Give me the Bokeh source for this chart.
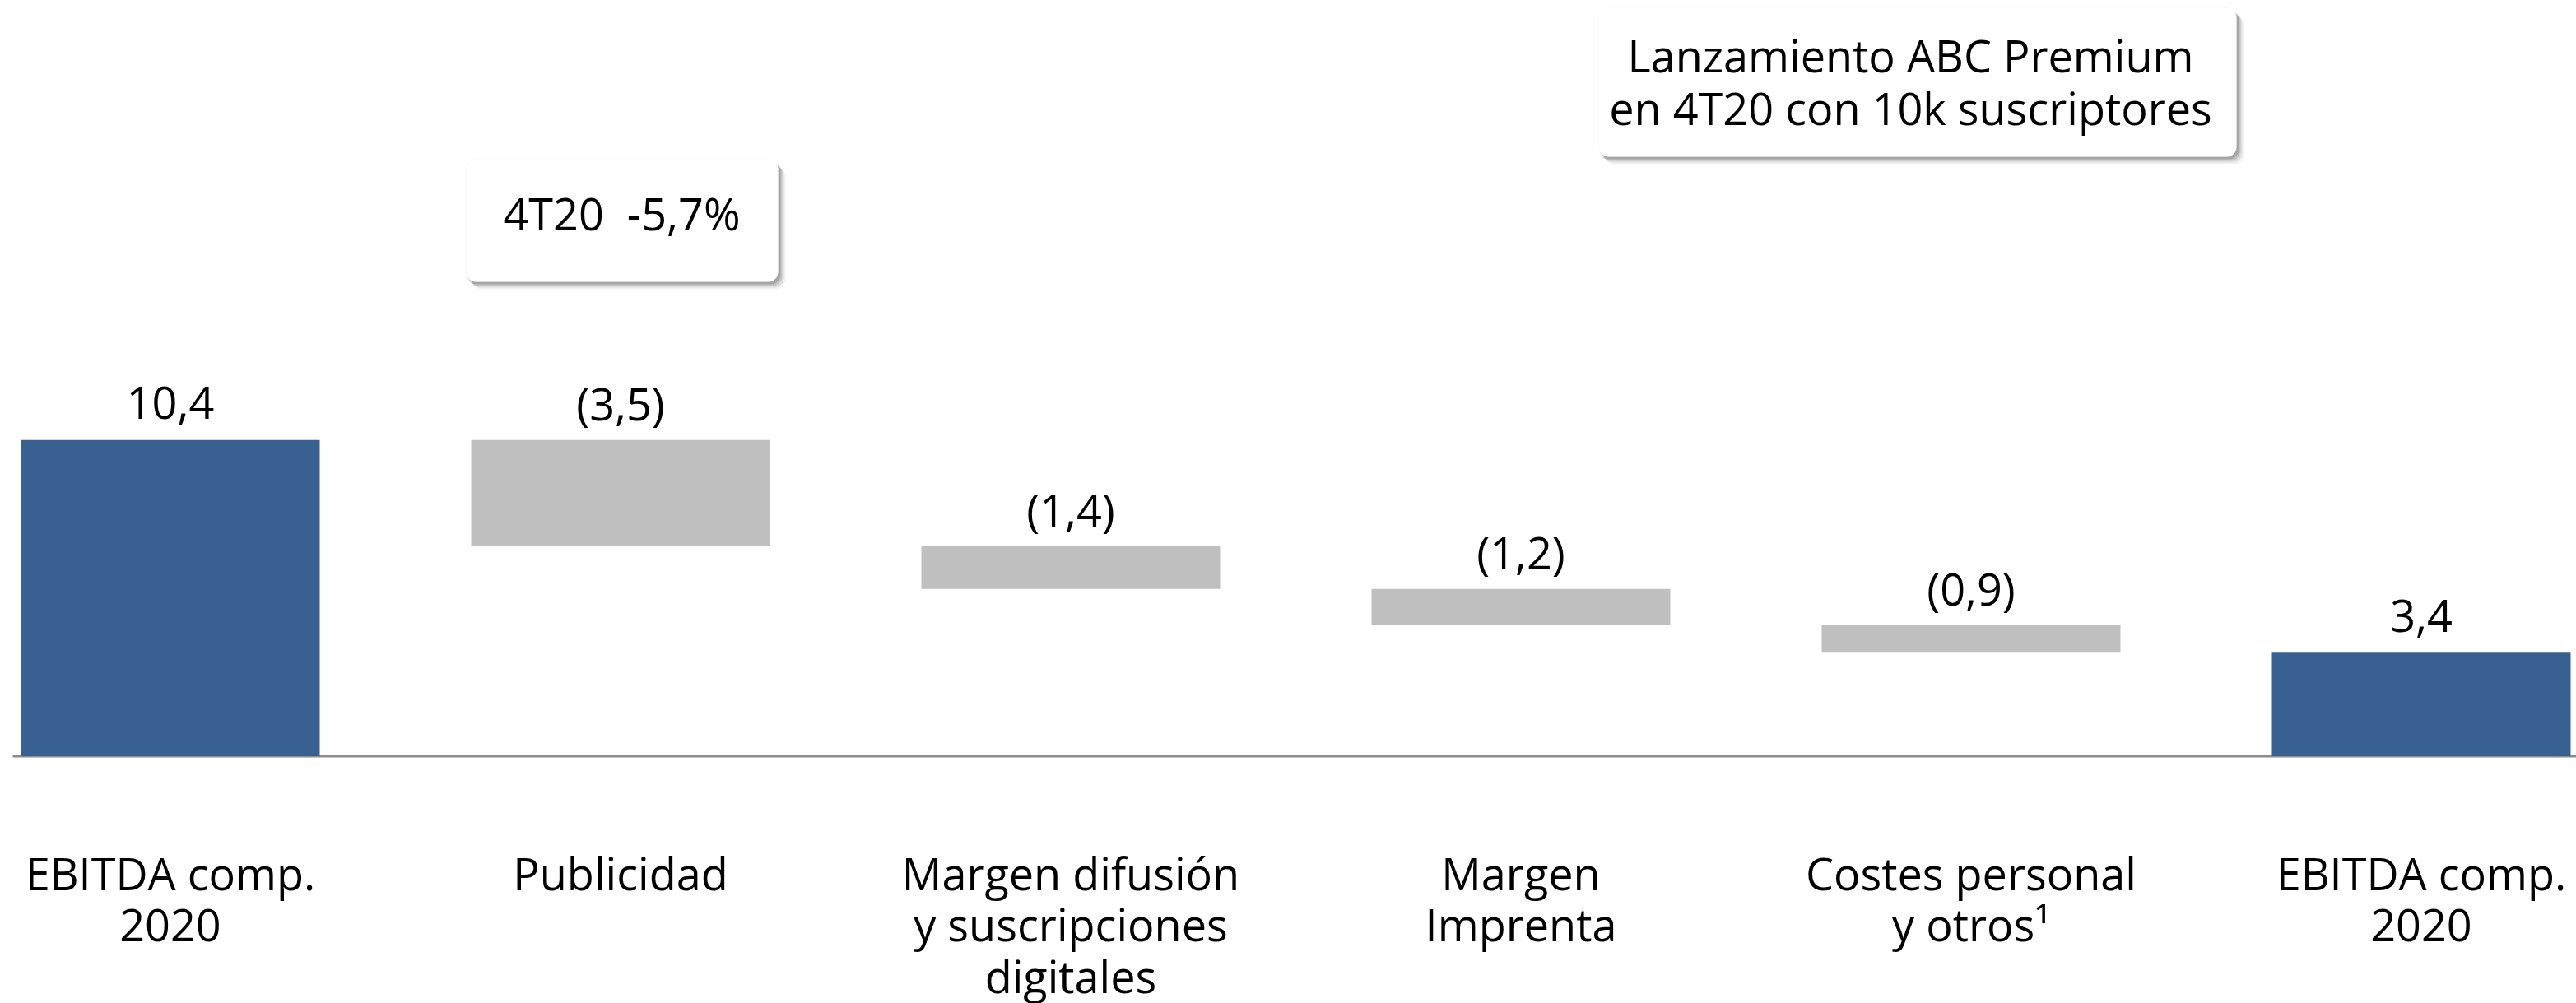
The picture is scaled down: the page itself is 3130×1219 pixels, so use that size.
from bokeh.plotting import figure
from bokeh.models import ColumnDataSource, FixedTicker, BoxAnnotation, Label, Range1d
from bokeh.embed import file_html
from bokeh.resources import INLINE
from bokeh.core.properties import value

# ---------------- data ----------------
categories = [
    "EBITDA comp.\n2020",
    "Publicidad",
    "Margen difusión\ny suscripciones\ndigitales",
    "Margen\nImprenta",
    "Costes personal\ny otros¹",
    "EBITDA comp.\n2020",
]
values = [10.4, -3.5, -1.4, -1.2, -0.9, 3.4]
kinds = ["total", "delta", "delta", "delta", "delta", "total"]
note_publicidad = "4T20\u00a0 -5,7%"
note_premium = ["Lanzamiento ABC Premium", "en 4T20 con 10k suscriptores"]

# ---------------- layout constants (pixels) ----------------
W, H = 3130, 1219
FRAME_H = 1000
PX_PER_CAT = 547.0
FIRST_CENTER_PX = 206.5
BASE_PX = 918.5
PX_PER_UNIT = 36.95
LABEL_GAP_PX = 45
TEXT_SHIFT = 22  # correction for text anchor placement

X0 = -FIRST_CENTER_PX / PX_PER_CAT
X1 = (W - FIRST_CENTER_PX) / PX_PER_CAT
Y1 = BASE_PX / PX_PER_UNIT
Y0 = (BASE_PX - FRAME_H) / PX_PER_UNIT


def xd(px):
    return X0 + px / PX_PER_CAT


def yd(py):
    return (BASE_PX - py) / PX_PER_UNIT


FONT = "Open Sans"
FS = "54px"
BLUE = "#386090"
GREY = "#BFBFBF"

# ---------------- waterfall geometry ----------------
bottoms, tops, colors, labels = [], [], [], []
running = 0.0
for v, k in zip(values, kinds):
    if k == "total":
        b, t = 0.0, v
        running = v
        colors.append(BLUE)
        labels.append(f"{v:.1f}".replace(".", ","))
    else:
        b, t = running + v, running
        running = running + v
        colors.append(GREY)
        labels.append(f"({abs(v):.1f})".replace(".", ","))
    bottoms.append(b)
    tops.append(t)

src = ColumnDataSource(dict(
    x=list(range(len(values))),
    bottom=bottoms,
    top=tops,
    label_y=[t + LABEL_GAP_PX / PX_PER_UNIT for t in tops],
    color=colors,
    label=labels,
))

p = figure(
    frame_width=W, frame_height=FRAME_H,
    x_range=Range1d(X0, X1), y_range=Range1d(Y0, Y1),
    output_backend="svg", toolbar_location=None,
    y_axis_location=None, x_axis_location="below",
    min_border=0, min_border_bottom=H - FRAME_H,
    outline_line_color=None,
    background_fill_color="white", border_fill_color="white",
)
p.xgrid.visible = False
p.ygrid.visible = False

# baseline
p.segment(x0=xd(15), x1=X1, y0=0, y1=0, line_color="#8C8C8C", line_width=3)

p.vbar(x="x", bottom="bottom", top="top", width=363 / PX_PER_CAT,
       fill_color="color", line_color=None, source=src)

p.text(x="x", y="label_y", text="label", source=src,
       text_align="center", text_baseline="alphabetic",
       text_font=value(FONT), text_font_size=FS, text_color="black")

# axis
ax = p.xaxis[0]
ax.ticker = FixedTicker(ticks=list(range(len(categories))))
ax.major_label_overrides = {i: c for i, c in enumerate(categories)}
ax.major_label_standoff = 17
ax.major_tick_line_color = None
ax.minor_tick_line_color = None
ax.axis_line_color = None
ax.major_label_text_font = FONT
ax.major_label_text_font_size = FS
ax.major_label_text_color = "black"
ax.major_label_text_line_height = 0.85


# ---------------- annotation boxes ----------------
def note_box(l, r, t, b):
    for off, a in [(9, 0.05), (7, 0.08), (5, 0.12), (3, 0.15)]:
        p.add_layout(BoxAnnotation(
            left=xd(l + off - 2), right=xd(r + off), top=yd(t + off), bottom=yd(b + off),
            fill_color="black", fill_alpha=a, line_color=None, border_radius=12,
            level="annotation"))
    p.add_layout(BoxAnnotation(
        left=xd(l), right=xd(r), top=yd(t), bottom=yd(b),
        fill_color="white", fill_alpha=1.0, line_color="#EEEEEE", line_width=1,
        border_radius=12, level="annotation"))


note_box(566, 945, 193, 342)
note_box(1942, 2717, 9, 190)

p.add_layout(Label(x=xd(755), y=yd(280 - TEXT_SHIFT), text=note_publicidad,
                   text_align="center", text_baseline="alphabetic",
                   text_font=FONT, text_font_size=FS, text_color="black"))
for i, line in enumerate(note_premium):
    p.add_layout(Label(x=xd(2321), y=yd(88 + 64 * i - TEXT_SHIFT), text=line,
                       text_align="center", text_baseline="alphabetic",
                       text_font=FONT, text_font_size=FS, text_color="black"))

open("out.html", "w").write(file_html(p, INLINE))
